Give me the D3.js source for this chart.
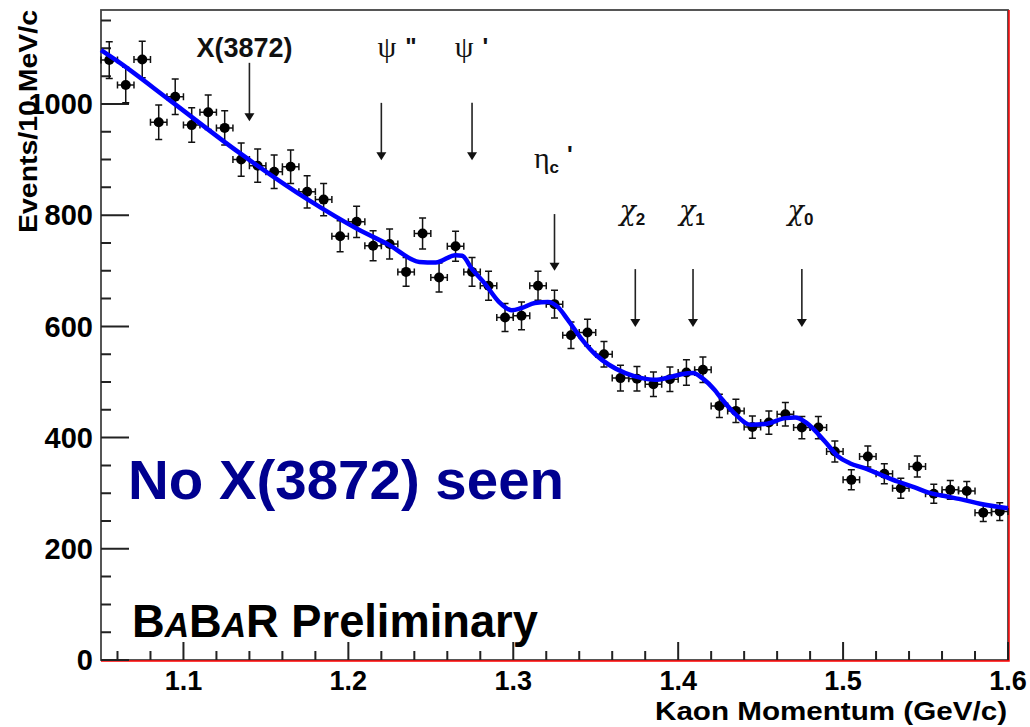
<!DOCTYPE html>
<html>
<head>
<meta charset="utf-8">
<script src="https://cdn.jsdelivr.net/npm/d3@7"></script>
<style>
  body { margin: 0; background: #fff; }
  svg { display: block; }
  text { font-family: "Liberation Sans", Arial, sans-serif; }
</style>
</head>
<body>
<div id="chart"></div>
<script>
/* CONSTANTS */
const width = 1030,
  height = 727;

/* DATA */
// bin centres (GeV/c), events per 10 MeV/c and their errors
const momentum = [1.055, 1.065, 1.075, 1.085, 1.095, 1.105, 1.115, 1.125, 1.135, 1.145,
  1.155, 1.165, 1.175, 1.185, 1.195, 1.205, 1.215, 1.225, 1.235, 1.245,
  1.255, 1.265, 1.275, 1.285, 1.295, 1.305, 1.315, 1.325, 1.335, 1.345,
  1.355, 1.365, 1.375, 1.385, 1.395, 1.405, 1.415, 1.425, 1.435, 1.445,
  1.455, 1.465, 1.475, 1.485, 1.495, 1.505, 1.515, 1.525, 1.535, 1.545,
  1.555, 1.565, 1.575, 1.585, 1.595];
const events = [1079, 1034, 1080, 967, 1013, 962, 985, 957, 900, 889,
  878, 887, 842, 828, 762, 788, 745, 748, 698, 767,
  688, 744, 698, 673, 616, 619, 673, 640, 584, 589,
  550, 507, 506, 496, 505, 517, 522, 457, 448, 419,
  427, 442, 418, 418, 375, 324, 366, 335, 309, 348,
  299, 306, 304, 265, 267];
const errors = [33, 32, 33, 31, 32, 31, 31, 31, 30, 30,
  30, 30, 29, 29, 28, 28, 27, 27, 26, 28,
  26, 27, 26, 26, 25, 25, 26, 25, 24, 24,
  23, 23, 22, 22, 22, 23, 23, 21, 21, 20,
  21, 21, 20, 20, 19, 18, 19, 18, 18, 19,
  17, 17, 17, 16, 16];
const binHalfWidth = 0.005;

// fit curve
const fitMomentum = [1.05, 1.06, 1.092, 1.134, 1.176, 1.205, 1.225, 1.243, 1.253, 1.265,
  1.269, 1.275, 1.283, 1.291, 1.299, 1.305, 1.313, 1.321, 1.327, 1.333,
  1.341, 1.35, 1.358, 1.368, 1.378, 1.386, 1.394, 1.402, 1.409, 1.415,
  1.422, 1.426, 1.434, 1.444, 1.454, 1.465, 1.471, 1.478, 1.489, 1.497,
  1.504, 1.513, 1.523, 1.533, 1.543, 1.553, 1.563, 1.573, 1.583, 1.6];
const fitEvents = [1097, 1077, 1006, 912, 827, 776, 746, 716, 715, 728,
  727, 703, 676, 645, 629, 633, 642, 644, 635, 612,
  579, 549, 531, 516, 507, 504, 508, 514, 516, 506,
  486, 471, 444, 423, 425, 435, 436, 426, 393, 366,
  354, 345, 333, 321, 311, 300, 294, 288, 281, 273];

// axis ticks
const xTicks = [1.1, 1.2, 1.3, 1.4, 1.5, 1.6];
const yTicks = [0, 200, 400, 600, 800, 1000];

// expected charmonium states
const peakSymbol = ["X(3872)", "\u03c8", "\u03c8", "\u03b7", "\u03c7", "\u03c7", "\u03c7"];
const peakSub = ["", "", "", "c", "2", "1", "0"];
const peakPrime = ["", "\"", "'", "'", "", "", ""];
const peakMomentum = [1.14, 1.22, 1.275, 1.325, 1.374, 1.409, 1.475];
const labelMomentum = [1.137, 1.2296, 1.2746, 1.3243, 1.3722, 1.4083, 1.4742];
const labelEvents = [1085, 1085, 1085, 885, 791, 791, 791];
const arrowTop = [1074, 1002, 1002, 802, 703, 703, 703];
const arrowTip = [969, 899, 899, 700, 599, 599, 599];

/* SCALES */
const xScale = d3.scaleLinear().domain([1.05, 1.6]).range([101, 1008]);
const yScale = d3.scaleLinear().domain([0, 1169]).range([660, 10]);

const svg = d3.select("#chart")
  .append("svg")
  .attr("width", width)
  .attr("height", height);

/* FRAME */
const plotLeft = xScale(1.05), plotRight = xScale(1.6),
  plotBottom = yScale(0), plotTop = yScale(1169);

svg.append("rect")
  .attr("x", plotLeft)
  .attr("y", plotTop)
  .attr("width", plotRight - plotLeft)
  .attr("height", plotBottom - plotTop)
  .attr("fill", "none")
  .attr("stroke", "#444")
  .attr("stroke-width", 1.8);

svg.append("path")
  .attr("d", `M${plotLeft},${plotBottom + 1}H${plotRight + 1}V${plotTop}`)
  .attr("fill", "none")
  .attr("stroke", "#ff0000")
  .attr("stroke-width", 1.5);

/* TICKS */
// ticks point into the frame: minor every 0.02 / 50, major on the labels
const xMinor = xScale.ticks(25).filter(t => !xTicks.some(m => Math.abs(m - t) < 1e-6));
const yMinor = yScale.ticks(23).filter(t => !yTicks.includes(t));

const tickPath = [
  ...xMinor.map(t => `M${xScale(t)},${plotBottom}v-9`),
  ...xTicks.map(t => `M${xScale(t)},${plotBottom}v-18`),
  ...yMinor.map(t => `M${plotLeft},${yScale(t)}h10`),
  ...yTicks.map(t => `M${plotLeft},${yScale(t)}h28`)
].join("");

svg.append("path")
  .attr("class", "ticks")
  .attr("d", tickPath)
  .attr("fill", "none")
  .attr("stroke", "#222")
  .attr("stroke-width", 2);

// tick labels
svg.append("g").attr("class", "x-labels")
  .selectAll("text")
  .data(xTicks)
  .join("text")
  .attr("x", d => xScale(d))
  .attr("y", plotBottom + 30)
  .attr("text-anchor", "middle")
  .attr("font-size", 27)
  .attr("font-weight", "bold")
  .text(d => d3.format(".1f")(d));

svg.append("g").attr("class", "y-labels")
  .selectAll("text")
  .data(yTicks)
  .join("text")
  .attr("x", plotLeft - 8)
  .attr("y", d => yScale(d))
  .attr("dy", "0.35em")
  .attr("text-anchor", "end")
  .attr("font-size", 29)
  .attr("font-weight", "bold")
  .text(d => d3.format("d")(d));

// axis titles
svg.append("text")
  .attr("x", 1007)
  .attr("y", 720)
  .attr("text-anchor", "end")
  .attr("font-size", 25)
  .attr("font-weight", "bold")
  .attr("textLength", 352)
  .attr("lengthAdjust", "spacingAndGlyphs")
  .text("Kaon Momentum (GeV/c)");

svg.append("text")
  .attr("transform", "translate(37,10) rotate(-90)")
  .attr("text-anchor", "end")
  .attr("font-size", 26)
  .attr("font-weight", "bold")
  .attr("textLength", 223)
  .attr("lengthAdjust", "spacingAndGlyphs")
  .text("Events/10 MeV/c");

/* DATA POINTS */
const points = momentum.map((m, i) => ({ m: m, n: events[i], e: errors[i] }));

const pts = svg.append("g").attr("class", "points")
  .selectAll("g")
  .data(points)
  .join("g");

// vertical error bars with caps
pts.append("path")
  .attr("d", d => {
    const cx = xScale(d.m), ya = yScale(d.n - d.e), yb = yScale(d.n + d.e);
    return `M${cx},${ya}V${yb}M${cx - 3.5},${ya}H${cx + 3.5}M${cx - 3.5},${yb}H${cx + 3.5}`;
  })
  .attr("stroke", "#111")
  .attr("stroke-width", 1.5)
  .attr("fill", "none");

// horizontal bin-width bars with caps
pts.append("path")
  .attr("d", d => {
    const cy = yScale(d.n), xa = xScale(d.m - binHalfWidth), xb = xScale(d.m + binHalfWidth);
    return `M${xa},${cy}H${xb}M${xa},${cy - 3.5}V${cy + 3.5}M${xb},${cy - 3.5}V${cy + 3.5}`;
  })
  .attr("stroke", "#111")
  .attr("stroke-width", 1.5)
  .attr("fill", "none");

pts.append("circle")
  .attr("cx", d => xScale(d.m))
  .attr("cy", d => yScale(d.n))
  .attr("r", 5)
  .attr("fill", "#000");

/* FIT CURVE */
const fit = fitMomentum.map((m, i) => ({ m: m, n: fitEvents[i] }));
const fitLine = d3.line()
  .x(d => xScale(d.m))
  .y(d => yScale(d.n))
  .curve(d3.curveMonotoneX);

svg.append("path")
  .datum(fit)
  .attr("d", fitLine)
  .attr("fill", "none")
  .attr("stroke", "#0000ff")
  .attr("stroke-width", 4.5)
  .attr("stroke-linejoin", "round");

/* ANNOTATIONS */
const arrows = svg.append("g").attr("class", "arrows");
peakMomentum.forEach((m, i) => {
  const ax = xScale(m), ay = yScale(arrowTop[i]), tip = yScale(arrowTip[i]);
  arrows.append("line")
    .attr("x1", ax).attr("x2", ax)
    .attr("y1", ay).attr("y2", tip - 6)
    .attr("stroke", "#222")
    .attr("stroke-width", 1.6);
  arrows.append("path")
    .attr("d", `M${ax - 5},${tip - 8}L${ax + 5},${tip - 8}L${ax},${tip}Z`)
    .attr("fill", "#111");

  const t = arrows.append("text")
    .attr("x", xScale(labelMomentum[i]))
    .attr("y", yScale(labelEvents[i]))
    .attr("text-anchor", "middle")
    .attr("fill", "#111");

  if (i === 0) {
    t.attr("font-size", 27).attr("font-weight", "bold").text(peakSymbol[i]);
    return;
  }
  const isChi = peakSymbol[i] === "\u03c7";
  t.append("tspan")
    .attr("font-family", isChi ? "'DejaVu Serif', serif" : "'Liberation Serif', 'DejaVu Serif', serif")
    .attr("font-style", isChi ? "italic" : "normal")
    .attr("font-size", isChi ? 27 : 30)
    .text(peakSymbol[i]);
  if (peakSub[i]) {
    t.append("tspan")
      .attr("dy", 5)
      .attr("font-size", 17)
      .attr("font-weight", "bold")
      .text(peakSub[i]);
  }
  if (peakPrime[i]) {
    t.append("tspan")
      .attr("dx", peakSub[i] ? 8 : 9)
      .attr("dy", peakSub[i] ? -10 : -2)
      .attr("font-size", 24)
      .attr("font-weight", "bold")
      .text(peakPrime[i]);
  }
});

/* TEXT BOXES */
svg.append("text")
  .attr("x", 128)
  .attr("y", 499)
  .attr("font-family", "'Comic Sans MS', 'Open Sans', sans-serif")
  .attr("font-size", 56)
  .attr("font-weight", "bold")
  .attr("fill", "#00008f")
  .attr("textLength", 436)
  .attr("lengthAdjust", "spacingAndGlyphs")
  .text("No X(3872) seen");

const babar = svg.append("text")
  .attr("font-family", "'Comic Sans MS', 'Open Sans', sans-serif")
  .attr("font-size", 47)
  .attr("font-weight", "bold")
  .attr("fill", "#000");
babar.append("tspan").text("B");
babar.append("tspan").attr("font-size", 35).attr("font-style", "italic").text("A");
babar.append("tspan").text("B");
babar.append("tspan").attr("font-size", 35).attr("font-style", "italic").text("A");
babar.append("tspan").text("R");
babar.append("tspan").text(" Preliminary");

const bb = babar.node().getBBox();
babar.attr("transform", `translate(${132 - bb.x * 406 / bb.width},637) scale(${406 / bb.width},1)`);
</script>
</body>
</html>
